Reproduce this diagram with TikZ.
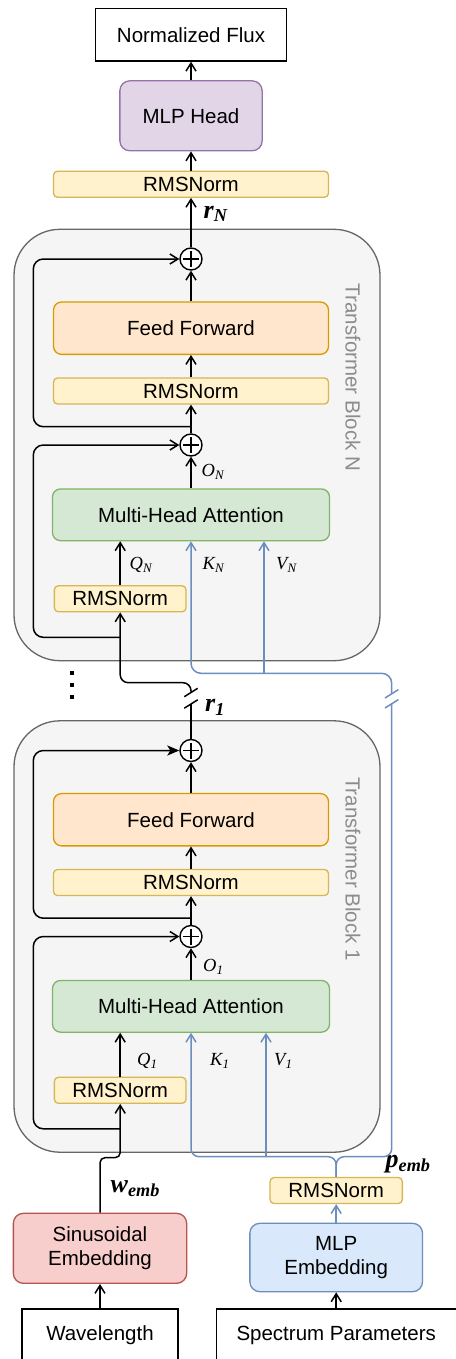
\documentclass[tikz,border=0pt]{standalone}
\usepackage{fontspec}
\setsansfont{Liberation Sans}
\newfontfamily\labfont{Liberation Serif}
\usetikzlibrary{arrows.meta}

\definecolor{normfill}{HTML}{FFF2CC}
\definecolor{normline}{HTML}{D6B656}
\definecolor{fffill}{HTML}{FFE6CC}
\definecolor{ffline}{HTML}{D79B00}
\definecolor{attfill}{HTML}{D5E8D4}
\definecolor{attline}{HTML}{82B366}
\definecolor{headfill}{HTML}{E1D5E7}
\definecolor{headline}{HTML}{9673A6}
\definecolor{sinfill}{HTML}{F8CECC}
\definecolor{sinline}{HTML}{B85450}
\definecolor{mlpfill}{HTML}{DAE8FC}
\definecolor{mlpline}{HTML}{6C8EBF}
\definecolor{blockfill}{HTML}{F5F5F5}
\definecolor{blockline}{HTML}{666666}
\definecolor{blocktext}{HTML}{8C8C8C}

\begin{document}
\begin{tikzpicture}[x=1pt,y=-1pt,
  box/.style={draw, line width=1.3pt, inner sep=0pt, align=center,
    font=\sffamily\fontsize{20.5}{23.5}\selectfont},
  plainbox/.style={box, fill=white},
  normbox/.style={box, rounded corners=4pt, fill=normfill, draw=normline, minimum height=26pt},
  ffbox/.style={box, rounded corners=8pt, fill=fffill, draw=ffline},
  attbox/.style={box, rounded corners=8pt, fill=attfill, draw=attline},
  headbox/.style={box, rounded corners=10pt, fill=headfill, draw=headline},
  sinbox/.style={box, rounded corners=10pt, fill=sinfill, draw=sinline},
  mlpbox/.style={box, rounded corners=10pt, fill=mlpfill, draw=mlpline},
  blockbox/.style={draw=blockline, fill=blockfill, line width=1.3pt, rounded corners=46pt,
    minimum width=366pt, minimum height=431.4pt},
  blocktitle/.style={rotate=-90, text=blocktext, inner sep=0pt,
    font=\sffamily\fontsize{20.5}{23.5}\selectfont},
  sumnode/.style={draw, circle, fill=white, line width=1.4pt, minimum size=22pt, inner sep=0pt,
    path picture={\draw[line width=1.4pt]
      ([xshift=3pt]path picture bounding box.west) -- ([xshift=-3pt]path picture bounding box.east)
      ([yshift=-3pt]path picture bounding box.north) -- ([yshift=3pt]path picture bounding box.south);}},
  lab/.style={anchor=west, inner sep=0pt, font=\labfont\itshape\fontsize{18.5}{18.5}\selectfont},
  boldlab/.style={anchor=west, inner sep=0pt, font=\labfont\bfseries\itshape\fontsize{26}{26}\selectfont},
  line/.style={line width=1.5pt},
  flow/.style={line, -{Straight Barb[length=8pt,width=10pt]}},
  flowfill/.style={line, -{Stealth[length=12pt,width=10pt,inset=3pt]}},
  kvline/.style={line, draw=mlpline},
  kvflow/.style={flow, draw=mlpline}]
\useasboundingbox (0,0) rectangle (455,1359);

% output side
\node[plainbox, minimum width=190.7pt, minimum height=52.7pt] (flux) at (191,34.7) {Normalized Flux};
\node[headbox, minimum width=142.3pt, minimum height=70pt] (head) at (191,115.8) {MLP Head};
\node[normbox, minimum width=275pt] (normout) at (191,184.2) {RMSNorm};

% transformer block N
\begin{scope}
\node[blockbox] (blockN) at (197,445) {};
\node[blocktitle] (titleN) at (353,377.5) {Transformer Block N};
\node[sumnode] (addffN) at (191,259) {};
\node[ffbox, minimum width=275pt, minimum height=52.3pt] (ffN) at (191,328.2) {Feed Forward};
\node[normbox, minimum width=275pt] (normffN) at (191,391) {RMSNorm};
\node[sumnode] (addattN) at (191,445) {};
\node[attbox, minimum width=277pt, minimum height=51.7pt] (mhaN) at (191,514.8) {Multi-Head Attention};
\node[normbox, minimum width=131.7pt] (normattN) at (120.2,598.8) {RMSNorm};
\node[lab] (oN) at (201.5,472) {O\textsubscript{N}};
\node[lab] (qN) at (129.5,565) {Q\textsubscript{N}};
\node[lab] (kN) at (202.5,565) {K\textsubscript{N}};
\node[lab] (vN) at (276,565) {V\textsubscript{N}};
\path[draw,flow] (addattN) -- (normffN);
\path[draw,flow] (normffN) -- (ffN);
\path[draw,flow] (ffN) -- (addffN);
\path[draw,flow] (mhaN) -- (addattN);
\path[draw,flow] (normattN) -- (normattN |- mhaN.south);
\path[draw,flow,rounded corners=10pt] (191,426.7) -| (33.3,259) -- (addffN);
\path[draw,flow,rounded corners=10pt] (120.2,637.3) -| (33.3,445) -- (addattN);
\end{scope}

% transformer block 1
\begin{scope}[yshift=-491.5pt]
\node[blockbox] (block1) at (197,445) {};
\node[blocktitle] (title1) at (353,377.5) {Transformer Block 1};
\node[sumnode] (addff1) at (191,259) {};
\node[ffbox, minimum width=275pt, minimum height=52.3pt] (ff1) at (191,328.2) {Feed Forward};
\node[normbox, minimum width=275pt] (normff1) at (191,391) {RMSNorm};
\node[sumnode] (addatt1) at (191,445) {};
\node[attbox, minimum width=277pt, minimum height=51.7pt] (mha1) at (191,514.8) {Multi-Head Attention};
\node[normbox, minimum width=131.7pt] (normatt1) at (120.2,598.8) {RMSNorm};
\node[lab] (o1) at (203,475.5) {O\textsubscript{1}};
\node[lab] (q1) at (137,569.5) {Q\textsubscript{1}};
\node[lab] (k1) at (210,569.5) {K\textsubscript{1}};
\node[lab] (v1) at (274,569.5) {V\textsubscript{1}};
\path[draw,flow] (addatt1) -- (normff1);
\path[draw,flow] (normff1) -- (ff1);
\path[draw,flow] (ff1) -- (addff1);
\path[draw,flow] (mha1) -- (addatt1);
\path[draw,flow] (normatt1) -- (normatt1 |- mha1.south);
\path[draw,flowfill,rounded corners=10pt] (191,426.7) -| (33.3,259) -- (addff1);
\path[draw,flow,rounded corners=10pt] (120.2,637.3) -| (33.3,445) -- (addatt1);
\end{scope}

% inputs
\node[sinbox, minimum width=173.3pt, minimum height=70pt] (sin) at (100,1248.3) {Sinusoidal\\Embedding};
\node[mlpbox, minimum width=172.7pt, minimum height=68.4pt] (mlp) at (336.2,1257.5) {MLP\\Embedding};
\node[normbox, minimum width=132.3pt] (normp) at (336.2,1190.5) {RMSNorm};
\node[plainbox, minimum width=156pt, minimum height=52pt] (wave) at (100,1335) {Wavelength};
\node[plainbox, minimum width=240pt, minimum height=52pt] (spec) at (336.2,1335) {Spectrum Parameters};
\node[boldlab] (wemb) at (110.5,1189) {w\textsubscript{emb}};
\node[boldlab] (pemb) at (385.5,1164) {p\textsubscript{emb}};
\node[boldlab] (rN) at (203.5,214) {r\textsubscript{N}};
\node[boldlab] (r1) at (205,707.5) {r\textsubscript{1}};

\path[draw,flow] (wave) -- (sin);
\path[draw,flow] (spec) -- (mlp);
\path[draw,kvflow] (mlp) -- (normp);
\path[draw,flow] (head) -- (flux);
\path[draw,flow] (normout) -- (head);
\path[draw,flow] (addffN) -- (normout);
\path[draw,flow,rounded corners=5pt] (sin.north) -- ++(0,-55) -| (normatt1.south);

% residual stream between the blocks
\coordinate (rlo) at (191,704);
\coordinate (rhi) at (191,692.5);
\path[draw,line] (addff1) -- (rlo);
\path[draw,flow,rounded corners=8pt] (rhi) |- (120.2,682.7) -- (normattN);
\path[draw,line] (rlo) ++(-6.7,4.2) -- ++(13.4,-8.4);
\path[draw,line] (rhi) ++(-6.7,4.2) -- ++(13.4,-8.4);
\path[fill] (70,671.3) rectangle ++(4,4);
\path[fill] (70,683) rectangle ++(4,4);
\path[fill] (70,695.3) rectangle ++(4,4);

% keys and values from the parameter embedding
\coordinate (kvsplit) at (336.2,1156.7);
\coordinate (kvlo) at (391.7,703.8);
\coordinate (kvhi) at (391.7,693.8);
\coordinate (vfoot1) at (266,1156.7);
\coordinate (vfootN) at (264,673.3);
\path[draw,kvflow,rounded corners=8pt] (normp) -- (kvsplit) -| (mha1.south);
\path[draw,kvline,rounded corners=8pt] (normp) -- (kvsplit) -| (kvlo);
\path[draw,kvflow] (vfoot1) -- (vfoot1 |- mha1.south);
\path[draw,kvflow,rounded corners=10pt] (kvhi) |- (191,673.3) -- (mhaN.south);
\path[draw,kvflow] (vfootN) -- (vfootN |- mhaN.south);
\path[draw,kvline] (kvlo) ++(-6.7,4.2) -- ++(13.4,-8.4);
\path[draw,kvline] (kvhi) ++(-6.7,4.2) -- ++(13.4,-8.4);
\end{tikzpicture}
\end{document}
